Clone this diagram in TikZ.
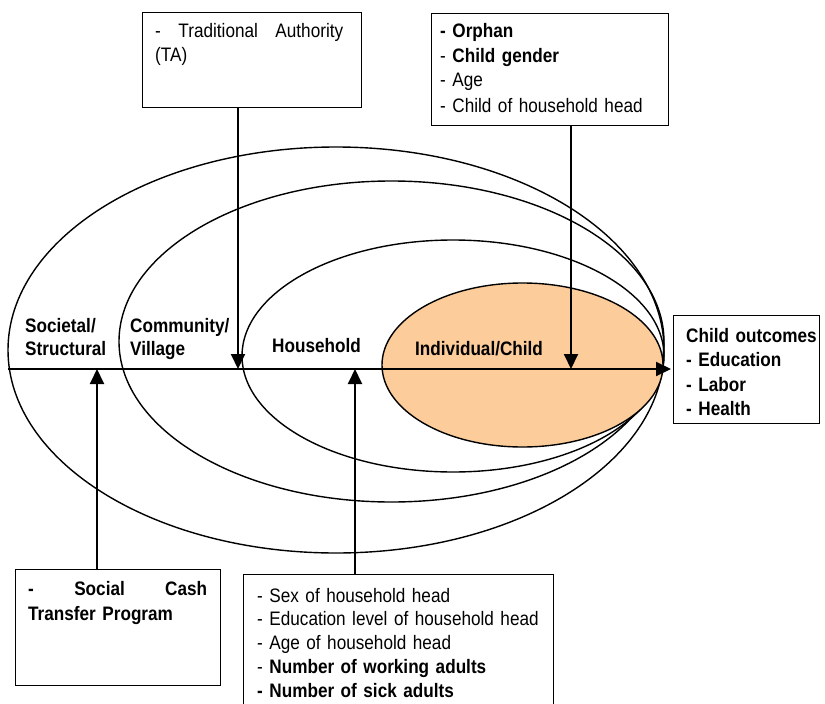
\documentclass[tikz,border=0pt]{standalone}
\usepackage{fontspec}
\setmainfont{Liberation Sans}[FakeStretch=0.88]
\usetikzlibrary{arrows.meta}
\definecolor{orangefill}{RGB}{252,204,155}
\begin{document}
\begin{tikzpicture}[x=1pt,y=-1pt,
  box/.style={draw, line width=1.4pt, rectangle, anchor=north west, inner sep=0pt},
  txt/.style={anchor=base west, inner sep=0pt, font=\fontsize{19.5}{24.5}\selectfont},
  lbl/.style={anchor=base west, inner sep=0pt, text width=120pt, font=\fontsize{19.5}{23}\selectfont\bfseries},
  ring/.style={draw, line width=1.4pt},
  arr/.style={line width=2pt, -{Triangle[width=14pt,length=15pt]}}]
\useasboundingbox (0,0) rectangle (825,704);

% nested ellipses
\draw[ring, fill=white] (336,350) ellipse [x radius=328, y radius=203];
\draw[ring] (391.5,341.5) ellipse [x radius=272.5, y radius=160.5];
\draw[ring] (453,356) ellipse [x radius=211, y radius=116];
\draw[ring, fill=orangefill] (522.5,365) ellipse [x radius=140.5, y radius=82];

% level labels
\node[lbl] (lsoc) at (25,332) {Societal/\\Structural};
\node[lbl] (lcom) at (130,332) {Community/\\Village};
\node[lbl] (lhh) at (272,352) {Household};
\node[lbl] (lind) at (415,355) {Individual/Child};

% boxes
\node[box, minimum width=219pt, minimum height=95pt] (ta) at (142,12) {};
\node[txt, text width=188pt] (tat) at (155,37) {-\hfill Traditional\hfill Authority\\(TA)};

\node[box, minimum width=237pt, minimum height=112pt] (ind) at (431,13) {};
\node[txt, text width=220pt, font=\fontsize{19.5}{25}\selectfont] (indt) at (440,37)
  {\textbf{- Orphan}\\- \textbf{Child gender}\\- Age\\- Child of household head};

\node[box, minimum width=146pt, minimum height=108pt] (out) at (673,315) {};
\node[txt, text width=135pt, font=\fontsize{19.5}{24.5}\selectfont\bfseries] (outt) at (686,342)
  {Child outcomes\\- Education\\- Labor\\- Health};

\node[box, minimum width=205pt, minimum height=116pt] (sc) at (15,569) {};
\node[txt, text width=179pt, font=\fontsize{19.5}{25}\selectfont\bfseries] (sct) at (28,595)
  {-\hfill Social\hfill Cash\\Transfer Program};

\node[box, minimum width=310pt, minimum height=145pt] (hh) at (243,574) {};
\node[txt, text width=290pt, font=\fontsize{19.5}{23.8}\selectfont] (hht) at (257,602)
  {- Sex of household head\\- Education level of household head\\- Age of household head\\- \textbf{Number of working adults}\\\textbf{- Number of sick adults}};

% axis and arrows
\coordinate (axL) at (8,369);
\coordinate (taA) at (238,369);
\coordinate (indA) at (571,369);
\coordinate (scA) at (97,369);
\coordinate (hhA) at (355,369);
\draw[arr, shorten >=2pt] (axL) -- (out.west |- axL);
\draw[arr] (ta.south -| taA) -- (taA);
\draw[arr] (ind.south -| indA) -- (indA);
\draw[arr] (sc.north -| scA) -- (scA);
\draw[arr] (hh.north -| hhA) -- (hhA);
\end{tikzpicture}
\end{document}
